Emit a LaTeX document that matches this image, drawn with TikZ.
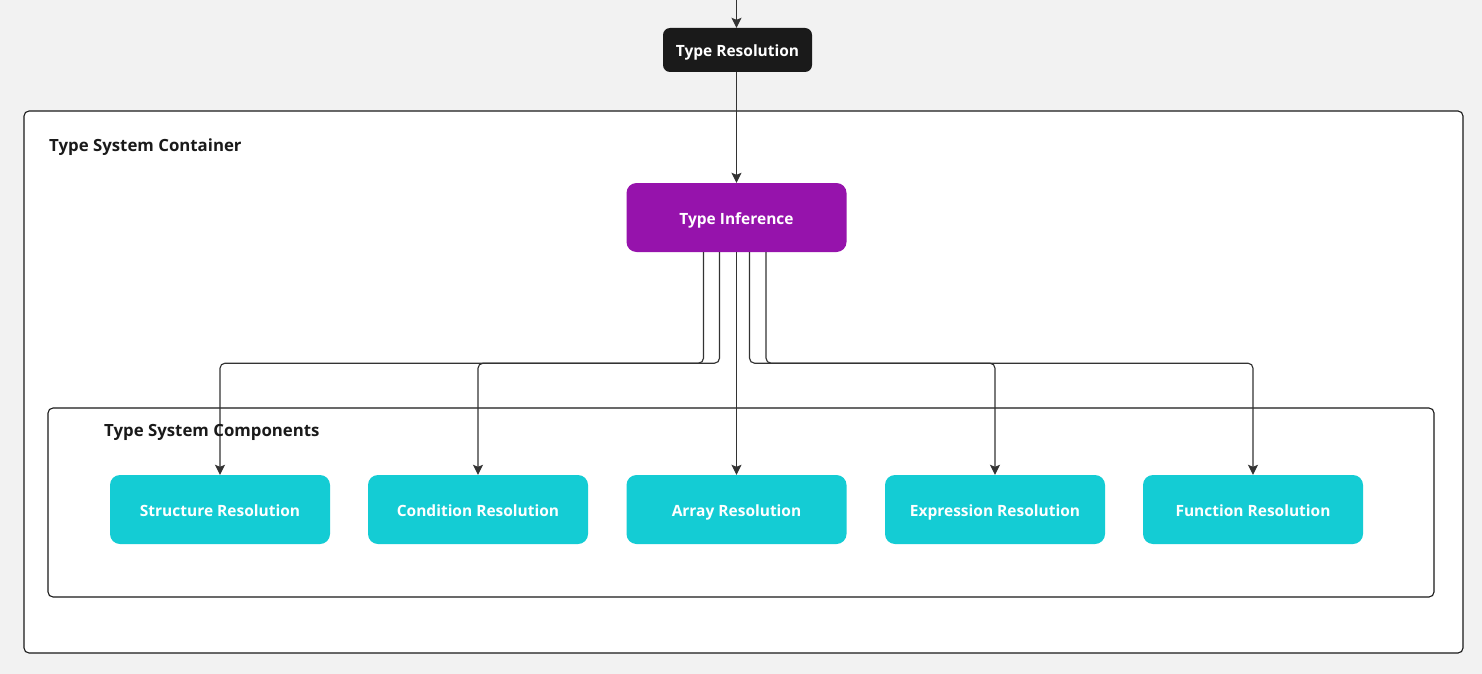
\documentclass[tikz,border=0pt]{standalone}
\usepackage{fontspec}
\setmainfont{Open Sans}
\usetikzlibrary{arrows.meta}
\definecolor{bgc}{HTML}{F2F2F2}
\definecolor{linec}{HTML}{333333}
\definecolor{darkc}{HTML}{1A1A1A}
\definecolor{purplec}{HTML}{9613AC}
\definecolor{cyanc}{HTML}{14CCD4}
\begin{document}
\begin{tikzpicture}[x=1pt,y=-1pt,
  container/.style={draw=darkc, line width=1.1pt, fill=white, rounded corners=5pt},
  clabel/.style={anchor=base west, inner sep=0pt, text=darkc, font=\fontsize{16.8}{20}\selectfont\bfseries},
  boxn/.style={inner sep=0pt, minimum width=220pt, minimum height=69pt, rounded corners=10pt, text=white, text height=13pt, text depth=0pt, font=\fontsize{15.5}{18}\selectfont\bfseries},
  comp/.style={boxn, fill=cyanc},
  arr/.style={draw=linec, line width=1.15pt, -{Stealth[length=10pt,width=10pt,inset=2pt]}},
  conn/.style={arr, rounded corners=5pt}]
\fill[bgc] (0,0) rectangle (1482,674);
\useasboundingbox (0,0) rectangle (1482,674);
% containers
\draw[container] (24,111) rectangle (1463,653);
\node[clabel] (lblouter) at (49,151.7) {Type System Container};
\draw[container] (48,408) rectangle (1434,597);
% nodes
\node[boxn, fill=darkc, minimum width=149pt, minimum height=44pt, rounded corners=7pt] (res) at (737.5,50) {Type Resolution};
\node[boxn, fill=purplec] (inf) at (736.5,217.5) {Type Inference};
\node[comp] (s1) at (220,509.5) {Structure Resolution};
\node[comp] (s2) at (478,509.5) {Condition Resolution};
\node[comp] (s3) at (736.5,509.5) {Array Resolution};
\node[comp] (s4) at (995,509.5) {Expression Resolution};
\node[comp] (s5) at (1253,509.5) {Function Resolution};
% connectors
\coordinate (top) at (736.5,0);
\draw[arr] (top) -- (res.north -| top);
\draw[arr] (res.south -| inf.north) -- (inf.north);
\draw[conn] ([xshift=-33pt]inf.south) -- ++(0,111) -| (s1.north);
\draw[conn] ([xshift=-17pt]inf.south) -- ++(0,111) -| (s2.north);
\draw[arr] (inf.south) -- (s3.north);
\draw[conn] ([xshift=13pt]inf.south) -- ++(0,111) -| (s4.north);
\draw[conn] ([xshift=29.5pt]inf.south) -- ++(0,111) -| (s5.north);
\node[clabel] (lblinner) at (104,436.5) {Type System Components};
\end{tikzpicture}
\end{document}
